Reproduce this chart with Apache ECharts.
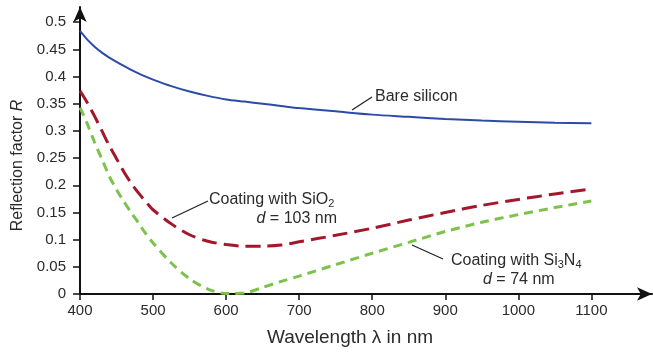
<!DOCTYPE html>
<html>
<head>
<meta charset="utf-8">
<script src="https://cdn.jsdelivr.net/npm/echarts@6/dist/echarts.min.js"></script>
<style>
html,body{margin:0;padding:0;background:#fff;}
#c{width:653px;height:354px;}
</style>
</head>
<body>
<div id="c"></div>
<script>
// Data
const wavelengths = [400, 410, 420, 430, 440, 450, 460, 470, 480, 490, 500, 525, 550, 575, 600, 625, 650, 675, 700, 750, 800, 850, 900, 950, 1000, 1050, 1100];
const bareSilicon = [0.484, 0.468, 0.455, 0.444, 0.435, 0.427, 0.4195, 0.4125, 0.406, 0.400, 0.3945, 0.3825, 0.3725, 0.3645, 0.358, 0.354, 0.350, 0.346, 0.342, 0.336, 0.330, 0.326, 0.322, 0.319, 0.317, 0.315, 0.314];
const coatingSiO2 = [0.374, 0.352, 0.327, 0.300, 0.273, 0.249, 0.225, 0.204, 0.186, 0.170, 0.155, 0.129, 0.109, 0.097, 0.091, 0.088, 0.088, 0.090, 0.096, 0.108, 0.121, 0.136, 0.150, 0.163, 0.174, 0.184, 0.193];
const coatingSi3N4 = [0.343, 0.313, 0.279, 0.248, 0.217, 0.192, 0.170, 0.150, 0.131, 0.111, 0.094, 0.057, 0.028, 0.009, 0.001, 0.002, 0.012, 0.023, 0.033, 0.054, 0.075, 0.095, 0.115, 0.132, 0.146, 0.159, 0.171];
const xTicks = [400, 500, 600, 700, 800, 900, 1000, 1100];
const yTicks = [0, 0.05, 0.1, 0.15, 0.2, 0.25, 0.3, 0.35, 0.4, 0.45, 0.5];

function pairs(xs, ys){ return xs.map((x,i)=>[x, ys[i]]); }

const FONT = '"Liberation Sans", Arial, Helvetica, sans-serif';
const TXT = '#2b2b2b';

const chart = echarts.init(document.getElementById('c'), null, {renderer:'canvas'});
chart.setOption({
  animation: false,
  backgroundColor: '#fff',
  textStyle: {fontFamily: FONT},
  grid: {left: 80, right: 1, top: 7, bottom: 60, containLabel: false},
  xAxis: {
    type: 'value', min: 400, max: 1183,
    name: 'Wavelength λ in nm', nameLocation: 'middle', nameGap: 34,
    nameTextStyle: {fontSize: 19, color: TXT, fontFamily: FONT, padding: [0, 32, 0, 0]},
    axisLine: {show: true, lineStyle: {color: '#111', width: 2}, symbol: ['none', 'arrow'], symbolSize: [10, 15]},
    axisTick: {show: true, length: 6, lineStyle: {color: '#111', width: 1.5}, customValues: xTicks},
    axisLabel: {fontSize: 15, color: TXT, margin: 9, fontFamily: FONT, customValues: xTicks,
      formatter: v => String(v)},
    splitLine: {show: false}
  },
  yAxis: {
    type: 'value', min: 0, max: 0.528,
    name: 'Reflection factor {i|R}', nameLocation: 'middle', nameGap: 50, nameRotate: 90,
    nameTextStyle: {fontSize: 16, color: TXT, fontFamily: FONT, padding: [0, 30, 0, 0],
      rich: {i: {fontSize: 16, fontStyle: 'italic', color: TXT, fontFamily: FONT}}},
    axisLine: {show: true, lineStyle: {color: '#111', width: 2}, symbol: ['none', 'arrow'], symbolSize: [10, 15]},
    axisTick: {show: true, length: 7, lineStyle: {color: '#111', width: 1.5}, customValues: yTicks},
    axisLabel: {fontSize: 15, color: TXT, margin: 14, fontFamily: FONT, customValues: yTicks,
      formatter: v => String(+v.toFixed(2))},
    splitLine: {show: false}
  },
  series: [
    {name: 'Bare silicon', type: 'line', data: pairs(wavelengths, bareSilicon), smooth: 0.3, showSymbol: false,
     lineStyle: {color: '#2b4ba6', width: 2}},
    {name: 'SiO2', type: 'line', data: pairs(wavelengths, coatingSiO2), smooth: 0.3, showSymbol: false,
     lineStyle: {color: '#a3172b', width: 3, type: [15, 7]}},
    {name: 'Si3N4', type: 'line', data: pairs(wavelengths, coatingSi3N4), smooth: 0.3, showSymbol: false,
     lineStyle: {color: '#7dc24d', width: 3, type: [9, 6]}}
  ],
  graphic: [
    {type: 'line', shape: {x1: 352, y1: 110, x2: 372, y2: 97}, style: {stroke: '#222', lineWidth: 1.3}},
    {type: 'text', left: 375, top: 89, style: {text: 'Bare silicon', fontSize: 16, fill: TXT, fontFamily: FONT}},

    {type: 'line', shape: {x1: 172, y1: 218, x2: 208, y2: 201}, style: {stroke: '#222', lineWidth: 1.3}},
    {type: 'text', left: 209, top: 192, style: {text: 'Coating with SiO{s|2}', fontSize: 16, fill: TXT, fontFamily: FONT,
      rich: {s: {fontSize: 11, fill: TXT, fontFamily: FONT, padding: [8, 0, 0, 0]}}}},
    {type: 'text', right: 653 - 337, top: 211, style: {text: '{i|d} = 103 nm', fontSize: 16, fill: TXT, fontFamily: FONT,
      rich: {i: {fontSize: 16, fontStyle: 'italic', fill: TXT, fontFamily: FONT}}}},

    {type: 'line', shape: {x1: 412, y1: 245, x2: 443, y2: 259}, style: {stroke: '#222', lineWidth: 1.3}},
    {type: 'text', left: 451, top: 253, style: {text: 'Coating with Si{s|3}N{s|4}', fontSize: 16, fill: TXT, fontFamily: FONT,
      rich: {s: {fontSize: 11, fill: TXT, fontFamily: FONT, padding: [8, 0, 0, 0]}}}},
    {type: 'text', left: 483, top: 272, style: {text: '{i|d} = 74 nm', fontSize: 16, fill: TXT, fontFamily: FONT,
      rich: {i: {fontSize: 16, fontStyle: 'italic', fill: TXT, fontFamily: FONT}}}}
  ]
});
</script>
</body>
</html>
